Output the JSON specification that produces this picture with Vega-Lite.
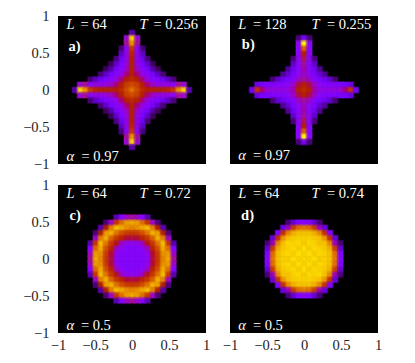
{"$schema":"https://vega.github.io/schema/vega-lite/v6.json","background":"white","padding":{"left":22,"top":8,"right":0,"bottom":0},"config":{"view":{"fill":"black","stroke":null},"axis":{"grid":false,"domain":false,"ticks":false,"labelFont":"Liberation Serif","labelFontSize":14.5,"labelColor":"#222","labelOverlap":false,"labelBound":false,"labelFlush":false,"format":"~g","values":[-1,-0.5,0,0.5,1],"title":null},"axisY":{"labelPadding":9},"axisX":{"labelPadding":5},"text":{"font":"Liberation Serif","fontSize":14.5,"color":"white","align":"left","baseline":"middle"}},
"datasets":{
"a":[
{"x":0,"y":0.77,"v":12},
{"x":-0.07,"y":0.7,"v":35},{"x":0,"y":0.7,"v":90},{"x":0.07,"y":0.7,"v":35},
{"x":-0.07,"y":0.63,"v":40},{"x":0,"y":0.63,"v":80},{"x":0.07,"y":0.63,"v":40},
{"x":-0.14,"y":0.56,"v":8},{"x":-0.07,"y":0.56,"v":30},{"x":0,"y":0.56,"v":60},{"x":0.07,"y":0.56,"v":30},{"x":0.14,"y":0.56,"v":8},
{"x":-0.14,"y":0.49,"v":14},{"x":-0.07,"y":0.49,"v":32},{"x":0,"y":0.49,"v":52},{"x":0.07,"y":0.49,"v":32},{"x":0.14,"y":0.49,"v":14},
{"x":-0.21,"y":0.42,"v":8},{"x":-0.14,"y":0.42,"v":20},{"x":-0.07,"y":0.42,"v":32},{"x":0,"y":0.42,"v":50},{"x":0.07,"y":0.42,"v":32},{"x":0.14,"y":0.42,"v":20},{"x":0.21,"y":0.42,"v":8},
{"x":-0.28,"y":0.35,"v":6},{"x":-0.21,"y":0.35,"v":15},{"x":-0.14,"y":0.35,"v":25},{"x":-0.07,"y":0.35,"v":33},{"x":0,"y":0.35,"v":50},{"x":0.07,"y":0.35,"v":33},{"x":0.14,"y":0.35,"v":25},{"x":0.21,"y":0.35,"v":15},{"x":0.28,"y":0.35,"v":6},
{"x":-0.35,"y":0.28,"v":6},{"x":-0.28,"y":0.28,"v":12},{"x":-0.21,"y":0.28,"v":23},{"x":-0.14,"y":0.28,"v":28},{"x":-0.07,"y":0.28,"v":36},{"x":0,"y":0.28,"v":50},{"x":0.07,"y":0.28,"v":36},{"x":0.14,"y":0.28,"v":28},{"x":0.21,"y":0.28,"v":23},{"x":0.28,"y":0.28,"v":12},{"x":0.35,"y":0.28,"v":6},
{"x":-0.42,"y":0.21,"v":8},{"x":-0.35,"y":0.21,"v":15},{"x":-0.28,"y":0.21,"v":23},{"x":-0.21,"y":0.21,"v":28},{"x":-0.14,"y":0.21,"v":32},{"x":-0.07,"y":0.21,"v":42},{"x":0,"y":0.21,"v":50},{"x":0.07,"y":0.21,"v":42},{"x":0.14,"y":0.21,"v":32},{"x":0.21,"y":0.21,"v":28},{"x":0.28,"y":0.21,"v":23},{"x":0.35,"y":0.21,"v":15},{"x":0.42,"y":0.21,"v":8},
{"x":-0.56,"y":0.14,"v":8},{"x":-0.49,"y":0.14,"v":14},{"x":-0.42,"y":0.14,"v":20},{"x":-0.35,"y":0.14,"v":25},{"x":-0.28,"y":0.14,"v":28},{"x":-0.21,"y":0.14,"v":32},{"x":-0.14,"y":0.14,"v":42},{"x":-0.07,"y":0.14,"v":50},{"x":0,"y":0.14,"v":55},{"x":0.07,"y":0.14,"v":50},{"x":0.14,"y":0.14,"v":42},{"x":0.21,"y":0.14,"v":32},{"x":0.28,"y":0.14,"v":28},{"x":0.35,"y":0.14,"v":25},{"x":0.42,"y":0.14,"v":20},{"x":0.49,"y":0.14,"v":14},{"x":0.56,"y":0.14,"v":8},
{"x":-0.7,"y":0.07,"v":35},{"x":-0.63,"y":0.07,"v":40},{"x":-0.56,"y":0.07,"v":30},{"x":-0.49,"y":0.07,"v":32},{"x":-0.42,"y":0.07,"v":32},{"x":-0.35,"y":0.07,"v":33},{"x":-0.28,"y":0.07,"v":36},{"x":-0.21,"y":0.07,"v":42},{"x":-0.14,"y":0.07,"v":50},{"x":-0.07,"y":0.07,"v":62},{"x":0,"y":0.07,"v":66},{"x":0.07,"y":0.07,"v":62},{"x":0.14,"y":0.07,"v":50},{"x":0.21,"y":0.07,"v":42},{"x":0.28,"y":0.07,"v":36},{"x":0.35,"y":0.07,"v":33},{"x":0.42,"y":0.07,"v":32},{"x":0.49,"y":0.07,"v":32},{"x":0.56,"y":0.07,"v":30},{"x":0.63,"y":0.07,"v":40},{"x":0.7,"y":0.07,"v":35},
{"x":-0.77,"y":0,"v":12},{"x":-0.7,"y":0,"v":90},{"x":-0.63,"y":0,"v":80},{"x":-0.56,"y":0,"v":60},{"x":-0.49,"y":0,"v":52},{"x":-0.42,"y":0,"v":50},{"x":-0.35,"y":0,"v":50},{"x":-0.28,"y":0,"v":50},{"x":-0.21,"y":0,"v":50},{"x":-0.14,"y":0,"v":55},{"x":-0.07,"y":0,"v":66},{"x":0,"y":0,"v":75},{"x":0.07,"y":0,"v":66},{"x":0.14,"y":0,"v":55},{"x":0.21,"y":0,"v":50},{"x":0.28,"y":0,"v":50},{"x":0.35,"y":0,"v":50},{"x":0.42,"y":0,"v":50},{"x":0.49,"y":0,"v":52},{"x":0.56,"y":0,"v":60},{"x":0.63,"y":0,"v":80},{"x":0.7,"y":0,"v":90},{"x":0.77,"y":0,"v":12},
{"x":-0.7,"y":-0.07,"v":35},{"x":-0.63,"y":-0.07,"v":40},{"x":-0.56,"y":-0.07,"v":30},{"x":-0.49,"y":-0.07,"v":32},{"x":-0.42,"y":-0.07,"v":32},{"x":-0.35,"y":-0.07,"v":33},{"x":-0.28,"y":-0.07,"v":36},{"x":-0.21,"y":-0.07,"v":42},{"x":-0.14,"y":-0.07,"v":50},{"x":-0.07,"y":-0.07,"v":62},{"x":0,"y":-0.07,"v":66},{"x":0.07,"y":-0.07,"v":62},{"x":0.14,"y":-0.07,"v":50},{"x":0.21,"y":-0.07,"v":42},{"x":0.28,"y":-0.07,"v":36},{"x":0.35,"y":-0.07,"v":33},{"x":0.42,"y":-0.07,"v":32},{"x":0.49,"y":-0.07,"v":32},{"x":0.56,"y":-0.07,"v":30},{"x":0.63,"y":-0.07,"v":40},{"x":0.7,"y":-0.07,"v":35},
{"x":-0.56,"y":-0.14,"v":8},{"x":-0.49,"y":-0.14,"v":14},{"x":-0.42,"y":-0.14,"v":20},{"x":-0.35,"y":-0.14,"v":25},{"x":-0.28,"y":-0.14,"v":28},{"x":-0.21,"y":-0.14,"v":32},{"x":-0.14,"y":-0.14,"v":42},{"x":-0.07,"y":-0.14,"v":50},{"x":0,"y":-0.14,"v":55},{"x":0.07,"y":-0.14,"v":50},{"x":0.14,"y":-0.14,"v":42},{"x":0.21,"y":-0.14,"v":32},{"x":0.28,"y":-0.14,"v":28},{"x":0.35,"y":-0.14,"v":25},{"x":0.42,"y":-0.14,"v":20},{"x":0.49,"y":-0.14,"v":14},{"x":0.56,"y":-0.14,"v":8},
{"x":-0.42,"y":-0.21,"v":8},{"x":-0.35,"y":-0.21,"v":15},{"x":-0.28,"y":-0.21,"v":23},{"x":-0.21,"y":-0.21,"v":28},{"x":-0.14,"y":-0.21,"v":32},{"x":-0.07,"y":-0.21,"v":42},{"x":0,"y":-0.21,"v":50},{"x":0.07,"y":-0.21,"v":42},{"x":0.14,"y":-0.21,"v":32},{"x":0.21,"y":-0.21,"v":28},{"x":0.28,"y":-0.21,"v":23},{"x":0.35,"y":-0.21,"v":15},{"x":0.42,"y":-0.21,"v":8},
{"x":-0.35,"y":-0.28,"v":6},{"x":-0.28,"y":-0.28,"v":12},{"x":-0.21,"y":-0.28,"v":23},{"x":-0.14,"y":-0.28,"v":28},{"x":-0.07,"y":-0.28,"v":36},{"x":0,"y":-0.28,"v":50},{"x":0.07,"y":-0.28,"v":36},{"x":0.14,"y":-0.28,"v":28},{"x":0.21,"y":-0.28,"v":23},{"x":0.28,"y":-0.28,"v":12},{"x":0.35,"y":-0.28,"v":6},
{"x":-0.28,"y":-0.35,"v":6},{"x":-0.21,"y":-0.35,"v":15},{"x":-0.14,"y":-0.35,"v":25},{"x":-0.07,"y":-0.35,"v":33},{"x":0,"y":-0.35,"v":50},{"x":0.07,"y":-0.35,"v":33},{"x":0.14,"y":-0.35,"v":25},{"x":0.21,"y":-0.35,"v":15},{"x":0.28,"y":-0.35,"v":6},
{"x":-0.21,"y":-0.42,"v":8},{"x":-0.14,"y":-0.42,"v":20},{"x":-0.07,"y":-0.42,"v":32},{"x":0,"y":-0.42,"v":50},{"x":0.07,"y":-0.42,"v":32},{"x":0.14,"y":-0.42,"v":20},{"x":0.21,"y":-0.42,"v":8},
{"x":-0.14,"y":-0.49,"v":14},{"x":-0.07,"y":-0.49,"v":32},{"x":0,"y":-0.49,"v":52},{"x":0.07,"y":-0.49,"v":32},{"x":0.14,"y":-0.49,"v":14},
{"x":-0.14,"y":-0.56,"v":8},{"x":-0.07,"y":-0.56,"v":30},{"x":0,"y":-0.56,"v":60},{"x":0.07,"y":-0.56,"v":30},{"x":0.14,"y":-0.56,"v":8},
{"x":-0.07,"y":-0.63,"v":40},{"x":0,"y":-0.63,"v":80},{"x":0.07,"y":-0.63,"v":40},
{"x":-0.07,"y":-0.7,"v":35},{"x":0,"y":-0.7,"v":90},{"x":0.07,"y":-0.7,"v":35},
{"x":0,"y":-0.77,"v":12}
],
"b":[
{"x":-0.07,"y":0.7,"v":8},{"x":0,"y":0.7,"v":22},{"x":0.07,"y":0.7,"v":8},
{"x":-0.07,"y":0.63,"v":30},{"x":0,"y":0.63,"v":95},{"x":0.07,"y":0.63,"v":30},
{"x":-0.07,"y":0.56,"v":28},{"x":0,"y":0.56,"v":72},{"x":0.07,"y":0.56,"v":28},
{"x":-0.07,"y":0.49,"v":28},{"x":0,"y":0.49,"v":50},{"x":0.07,"y":0.49,"v":28},
{"x":-0.14,"y":0.42,"v":8},{"x":-0.07,"y":0.42,"v":29},{"x":0,"y":0.42,"v":45},{"x":0.07,"y":0.42,"v":29},{"x":0.14,"y":0.42,"v":8},
{"x":-0.14,"y":0.35,"v":15},{"x":-0.07,"y":0.35,"v":29},{"x":0,"y":0.35,"v":40},{"x":0.07,"y":0.35,"v":29},{"x":0.14,"y":0.35,"v":15},
{"x":-0.21,"y":0.28,"v":10},{"x":-0.14,"y":0.28,"v":20},{"x":-0.07,"y":0.28,"v":29},{"x":0,"y":0.28,"v":38},{"x":0.07,"y":0.28,"v":29},{"x":0.14,"y":0.28,"v":20},{"x":0.21,"y":0.28,"v":10},
{"x":-0.28,"y":0.21,"v":10},{"x":-0.21,"y":0.21,"v":16},{"x":-0.14,"y":0.21,"v":24},{"x":-0.07,"y":0.21,"v":31},{"x":0,"y":0.21,"v":36},{"x":0.07,"y":0.21,"v":31},{"x":0.14,"y":0.21,"v":24},{"x":0.21,"y":0.21,"v":16},{"x":0.28,"y":0.21,"v":10},
{"x":-0.42,"y":0.14,"v":8},{"x":-0.35,"y":0.14,"v":15},{"x":-0.28,"y":0.14,"v":20},{"x":-0.21,"y":0.14,"v":24},{"x":-0.14,"y":0.14,"v":27},{"x":-0.07,"y":0.14,"v":36},{"x":0,"y":0.14,"v":40},{"x":0.07,"y":0.14,"v":36},{"x":0.14,"y":0.14,"v":27},{"x":0.21,"y":0.14,"v":24},{"x":0.28,"y":0.14,"v":20},{"x":0.35,"y":0.14,"v":15},{"x":0.42,"y":0.14,"v":8},
{"x":-0.63,"y":0.07,"v":18},{"x":-0.56,"y":0.07,"v":22},{"x":-0.49,"y":0.07,"v":24},{"x":-0.42,"y":0.07,"v":26},{"x":-0.35,"y":0.07,"v":27},{"x":-0.28,"y":0.07,"v":27},{"x":-0.21,"y":0.07,"v":30},{"x":-0.14,"y":0.07,"v":36},{"x":-0.07,"y":0.07,"v":46},{"x":0,"y":0.07,"v":50},{"x":0.07,"y":0.07,"v":46},{"x":0.14,"y":0.07,"v":36},{"x":0.21,"y":0.07,"v":30},{"x":0.28,"y":0.07,"v":27},{"x":0.35,"y":0.07,"v":27},{"x":0.42,"y":0.07,"v":26},{"x":0.49,"y":0.07,"v":24},{"x":0.56,"y":0.07,"v":22},{"x":0.63,"y":0.07,"v":18},
{"x":-0.7,"y":0,"v":20},{"x":-0.63,"y":0,"v":58},{"x":-0.56,"y":0,"v":42},{"x":-0.49,"y":0,"v":34},{"x":-0.42,"y":0,"v":33},{"x":-0.35,"y":0,"v":32},{"x":-0.28,"y":0,"v":32},{"x":-0.21,"y":0,"v":33},{"x":-0.14,"y":0,"v":38},{"x":-0.07,"y":0,"v":50},{"x":0,"y":0,"v":55},{"x":0.07,"y":0,"v":50},{"x":0.14,"y":0,"v":38},{"x":0.21,"y":0,"v":33},{"x":0.28,"y":0,"v":32},{"x":0.35,"y":0,"v":32},{"x":0.42,"y":0,"v":33},{"x":0.49,"y":0,"v":34},{"x":0.56,"y":0,"v":42},{"x":0.63,"y":0,"v":58},{"x":0.7,"y":0,"v":20},
{"x":-0.63,"y":-0.07,"v":18},{"x":-0.56,"y":-0.07,"v":22},{"x":-0.49,"y":-0.07,"v":24},{"x":-0.42,"y":-0.07,"v":26},{"x":-0.35,"y":-0.07,"v":27},{"x":-0.28,"y":-0.07,"v":27},{"x":-0.21,"y":-0.07,"v":30},{"x":-0.14,"y":-0.07,"v":36},{"x":-0.07,"y":-0.07,"v":46},{"x":0,"y":-0.07,"v":50},{"x":0.07,"y":-0.07,"v":46},{"x":0.14,"y":-0.07,"v":36},{"x":0.21,"y":-0.07,"v":30},{"x":0.28,"y":-0.07,"v":27},{"x":0.35,"y":-0.07,"v":27},{"x":0.42,"y":-0.07,"v":26},{"x":0.49,"y":-0.07,"v":24},{"x":0.56,"y":-0.07,"v":22},{"x":0.63,"y":-0.07,"v":18},
{"x":-0.42,"y":-0.14,"v":8},{"x":-0.35,"y":-0.14,"v":15},{"x":-0.28,"y":-0.14,"v":20},{"x":-0.21,"y":-0.14,"v":24},{"x":-0.14,"y":-0.14,"v":27},{"x":-0.07,"y":-0.14,"v":36},{"x":0,"y":-0.14,"v":40},{"x":0.07,"y":-0.14,"v":36},{"x":0.14,"y":-0.14,"v":27},{"x":0.21,"y":-0.14,"v":24},{"x":0.28,"y":-0.14,"v":20},{"x":0.35,"y":-0.14,"v":15},{"x":0.42,"y":-0.14,"v":8},
{"x":-0.28,"y":-0.21,"v":10},{"x":-0.21,"y":-0.21,"v":16},{"x":-0.14,"y":-0.21,"v":24},{"x":-0.07,"y":-0.21,"v":31},{"x":0,"y":-0.21,"v":36},{"x":0.07,"y":-0.21,"v":31},{"x":0.14,"y":-0.21,"v":24},{"x":0.21,"y":-0.21,"v":16},{"x":0.28,"y":-0.21,"v":10},
{"x":-0.21,"y":-0.28,"v":10},{"x":-0.14,"y":-0.28,"v":20},{"x":-0.07,"y":-0.28,"v":29},{"x":0,"y":-0.28,"v":38},{"x":0.07,"y":-0.28,"v":29},{"x":0.14,"y":-0.28,"v":20},{"x":0.21,"y":-0.28,"v":10},
{"x":-0.14,"y":-0.35,"v":15},{"x":-0.07,"y":-0.35,"v":29},{"x":0,"y":-0.35,"v":40},{"x":0.07,"y":-0.35,"v":29},{"x":0.14,"y":-0.35,"v":15},
{"x":-0.14,"y":-0.42,"v":8},{"x":-0.07,"y":-0.42,"v":29},{"x":0,"y":-0.42,"v":45},{"x":0.07,"y":-0.42,"v":29},{"x":0.14,"y":-0.42,"v":8},
{"x":-0.07,"y":-0.49,"v":28},{"x":0,"y":-0.49,"v":50},{"x":0.07,"y":-0.49,"v":28},
{"x":-0.07,"y":-0.56,"v":28},{"x":0,"y":-0.56,"v":72},{"x":0.07,"y":-0.56,"v":28},
{"x":-0.07,"y":-0.63,"v":30},{"x":0,"y":-0.63,"v":95},{"x":0.07,"y":-0.63,"v":30},
{"x":-0.07,"y":-0.7,"v":8},{"x":0,"y":-0.7,"v":22},{"x":0.07,"y":-0.7,"v":8}
],
"c":[
{"x":-0.21,"y":0.56,"v":12},{"x":-0.14,"y":0.56,"v":26},{"x":-0.07,"y":0.56,"v":36},{"x":0,"y":0.56,"v":40},{"x":0.07,"y":0.56,"v":36},{"x":0.14,"y":0.56,"v":26},{"x":0.21,"y":0.56,"v":12},
{"x":-0.35,"y":0.49,"v":8},{"x":-0.28,"y":0.49,"v":36},{"x":-0.21,"y":0.49,"v":60},{"x":-0.14,"y":0.49,"v":74},{"x":-0.07,"y":0.49,"v":82},{"x":0,"y":0.49,"v":84},{"x":0.07,"y":0.49,"v":82},{"x":0.14,"y":0.49,"v":74},{"x":0.21,"y":0.49,"v":60},{"x":0.28,"y":0.49,"v":36},{"x":0.35,"y":0.49,"v":8},
{"x":-0.42,"y":0.42,"v":12},{"x":-0.35,"y":0.42,"v":50},{"x":-0.28,"y":0.42,"v":77},{"x":-0.21,"y":0.42,"v":87},{"x":-0.14,"y":0.42,"v":84},{"x":-0.07,"y":0.42,"v":80},{"x":0,"y":0.42,"v":78},{"x":0.07,"y":0.42,"v":80},{"x":0.14,"y":0.42,"v":84},{"x":0.21,"y":0.42,"v":87},{"x":0.28,"y":0.42,"v":77},{"x":0.35,"y":0.42,"v":50},{"x":0.42,"y":0.42,"v":12},
{"x":-0.49,"y":0.35,"v":8},{"x":-0.42,"y":0.35,"v":50},{"x":-0.35,"y":0.35,"v":82},{"x":-0.28,"y":0.35,"v":85},{"x":-0.21,"y":0.35,"v":75},{"x":-0.14,"y":0.35,"v":67},{"x":-0.07,"y":0.35,"v":61},{"x":0,"y":0.35,"v":60},{"x":0.07,"y":0.35,"v":61},{"x":0.14,"y":0.35,"v":67},{"x":0.21,"y":0.35,"v":75},{"x":0.28,"y":0.35,"v":85},{"x":0.35,"y":0.35,"v":82},{"x":0.42,"y":0.35,"v":50},{"x":0.49,"y":0.35,"v":8},
{"x":-0.49,"y":0.28,"v":36},{"x":-0.42,"y":0.28,"v":77},{"x":-0.35,"y":0.28,"v":85},{"x":-0.28,"y":0.28,"v":72},{"x":-0.21,"y":0.28,"v":60},{"x":-0.14,"y":0.28,"v":52},{"x":-0.07,"y":0.28,"v":47},{"x":0,"y":0.28,"v":46},{"x":0.07,"y":0.28,"v":47},{"x":0.14,"y":0.28,"v":52},{"x":0.21,"y":0.28,"v":60},{"x":0.28,"y":0.28,"v":72},{"x":0.35,"y":0.28,"v":85},{"x":0.42,"y":0.28,"v":77},{"x":0.49,"y":0.28,"v":36},
{"x":-0.56,"y":0.21,"v":12},{"x":-0.49,"y":0.21,"v":60},{"x":-0.42,"y":0.21,"v":87},{"x":-0.35,"y":0.21,"v":75},{"x":-0.28,"y":0.21,"v":60},{"x":-0.21,"y":0.21,"v":49},{"x":-0.14,"y":0.21,"v":36},{"x":-0.07,"y":0.21,"v":31},{"x":0,"y":0.21,"v":30},{"x":0.07,"y":0.21,"v":31},{"x":0.14,"y":0.21,"v":36},{"x":0.21,"y":0.21,"v":49},{"x":0.28,"y":0.21,"v":60},{"x":0.35,"y":0.21,"v":75},{"x":0.42,"y":0.21,"v":87},{"x":0.49,"y":0.21,"v":60},{"x":0.56,"y":0.21,"v":12},
{"x":-0.56,"y":0.14,"v":26},{"x":-0.49,"y":0.14,"v":74},{"x":-0.42,"y":0.14,"v":84},{"x":-0.35,"y":0.14,"v":67},{"x":-0.28,"y":0.14,"v":52},{"x":-0.21,"y":0.14,"v":36},{"x":-0.14,"y":0.14,"v":29},{"x":-0.07,"y":0.14,"v":27},{"x":0,"y":0.14,"v":27},{"x":0.07,"y":0.14,"v":27},{"x":0.14,"y":0.14,"v":29},{"x":0.21,"y":0.14,"v":36},{"x":0.28,"y":0.14,"v":52},{"x":0.35,"y":0.14,"v":67},{"x":0.42,"y":0.14,"v":84},{"x":0.49,"y":0.14,"v":74},{"x":0.56,"y":0.14,"v":26},
{"x":-0.56,"y":0.07,"v":36},{"x":-0.49,"y":0.07,"v":82},{"x":-0.42,"y":0.07,"v":80},{"x":-0.35,"y":0.07,"v":61},{"x":-0.28,"y":0.07,"v":47},{"x":-0.21,"y":0.07,"v":31},{"x":-0.14,"y":0.07,"v":27},{"x":-0.07,"y":0.07,"v":27},{"x":0,"y":0.07,"v":27},{"x":0.07,"y":0.07,"v":27},{"x":0.14,"y":0.07,"v":27},{"x":0.21,"y":0.07,"v":31},{"x":0.28,"y":0.07,"v":47},{"x":0.35,"y":0.07,"v":61},{"x":0.42,"y":0.07,"v":80},{"x":0.49,"y":0.07,"v":82},{"x":0.56,"y":0.07,"v":36},
{"x":-0.56,"y":0,"v":40},{"x":-0.49,"y":0,"v":84},{"x":-0.42,"y":0,"v":78},{"x":-0.35,"y":0,"v":60},{"x":-0.28,"y":0,"v":46},{"x":-0.21,"y":0,"v":30},{"x":-0.14,"y":0,"v":27},{"x":-0.07,"y":0,"v":27},{"x":0,"y":0,"v":27},{"x":0.07,"y":0,"v":27},{"x":0.14,"y":0,"v":27},{"x":0.21,"y":0,"v":30},{"x":0.28,"y":0,"v":46},{"x":0.35,"y":0,"v":60},{"x":0.42,"y":0,"v":78},{"x":0.49,"y":0,"v":84},{"x":0.56,"y":0,"v":40},
{"x":-0.56,"y":-0.07,"v":36},{"x":-0.49,"y":-0.07,"v":82},{"x":-0.42,"y":-0.07,"v":80},{"x":-0.35,"y":-0.07,"v":61},{"x":-0.28,"y":-0.07,"v":47},{"x":-0.21,"y":-0.07,"v":31},{"x":-0.14,"y":-0.07,"v":27},{"x":-0.07,"y":-0.07,"v":27},{"x":0,"y":-0.07,"v":27},{"x":0.07,"y":-0.07,"v":27},{"x":0.14,"y":-0.07,"v":27},{"x":0.21,"y":-0.07,"v":31},{"x":0.28,"y":-0.07,"v":47},{"x":0.35,"y":-0.07,"v":61},{"x":0.42,"y":-0.07,"v":80},{"x":0.49,"y":-0.07,"v":82},{"x":0.56,"y":-0.07,"v":36},
{"x":-0.56,"y":-0.14,"v":26},{"x":-0.49,"y":-0.14,"v":74},{"x":-0.42,"y":-0.14,"v":84},{"x":-0.35,"y":-0.14,"v":67},{"x":-0.28,"y":-0.14,"v":52},{"x":-0.21,"y":-0.14,"v":36},{"x":-0.14,"y":-0.14,"v":29},{"x":-0.07,"y":-0.14,"v":27},{"x":0,"y":-0.14,"v":27},{"x":0.07,"y":-0.14,"v":27},{"x":0.14,"y":-0.14,"v":29},{"x":0.21,"y":-0.14,"v":36},{"x":0.28,"y":-0.14,"v":52},{"x":0.35,"y":-0.14,"v":67},{"x":0.42,"y":-0.14,"v":84},{"x":0.49,"y":-0.14,"v":74},{"x":0.56,"y":-0.14,"v":26},
{"x":-0.56,"y":-0.21,"v":12},{"x":-0.49,"y":-0.21,"v":60},{"x":-0.42,"y":-0.21,"v":87},{"x":-0.35,"y":-0.21,"v":75},{"x":-0.28,"y":-0.21,"v":60},{"x":-0.21,"y":-0.21,"v":49},{"x":-0.14,"y":-0.21,"v":36},{"x":-0.07,"y":-0.21,"v":31},{"x":0,"y":-0.21,"v":30},{"x":0.07,"y":-0.21,"v":31},{"x":0.14,"y":-0.21,"v":36},{"x":0.21,"y":-0.21,"v":49},{"x":0.28,"y":-0.21,"v":60},{"x":0.35,"y":-0.21,"v":75},{"x":0.42,"y":-0.21,"v":87},{"x":0.49,"y":-0.21,"v":60},{"x":0.56,"y":-0.21,"v":12},
{"x":-0.49,"y":-0.28,"v":36},{"x":-0.42,"y":-0.28,"v":77},{"x":-0.35,"y":-0.28,"v":85},{"x":-0.28,"y":-0.28,"v":72},{"x":-0.21,"y":-0.28,"v":60},{"x":-0.14,"y":-0.28,"v":52},{"x":-0.07,"y":-0.28,"v":47},{"x":0,"y":-0.28,"v":46},{"x":0.07,"y":-0.28,"v":47},{"x":0.14,"y":-0.28,"v":52},{"x":0.21,"y":-0.28,"v":60},{"x":0.28,"y":-0.28,"v":72},{"x":0.35,"y":-0.28,"v":85},{"x":0.42,"y":-0.28,"v":77},{"x":0.49,"y":-0.28,"v":36},
{"x":-0.49,"y":-0.35,"v":8},{"x":-0.42,"y":-0.35,"v":50},{"x":-0.35,"y":-0.35,"v":82},{"x":-0.28,"y":-0.35,"v":85},{"x":-0.21,"y":-0.35,"v":75},{"x":-0.14,"y":-0.35,"v":67},{"x":-0.07,"y":-0.35,"v":61},{"x":0,"y":-0.35,"v":60},{"x":0.07,"y":-0.35,"v":61},{"x":0.14,"y":-0.35,"v":67},{"x":0.21,"y":-0.35,"v":75},{"x":0.28,"y":-0.35,"v":85},{"x":0.35,"y":-0.35,"v":82},{"x":0.42,"y":-0.35,"v":50},{"x":0.49,"y":-0.35,"v":8},
{"x":-0.42,"y":-0.42,"v":12},{"x":-0.35,"y":-0.42,"v":50},{"x":-0.28,"y":-0.42,"v":77},{"x":-0.21,"y":-0.42,"v":87},{"x":-0.14,"y":-0.42,"v":84},{"x":-0.07,"y":-0.42,"v":80},{"x":0,"y":-0.42,"v":78},{"x":0.07,"y":-0.42,"v":80},{"x":0.14,"y":-0.42,"v":84},{"x":0.21,"y":-0.42,"v":87},{"x":0.28,"y":-0.42,"v":77},{"x":0.35,"y":-0.42,"v":50},{"x":0.42,"y":-0.42,"v":12},
{"x":-0.35,"y":-0.49,"v":8},{"x":-0.28,"y":-0.49,"v":36},{"x":-0.21,"y":-0.49,"v":60},{"x":-0.14,"y":-0.49,"v":74},{"x":-0.07,"y":-0.49,"v":82},{"x":0,"y":-0.49,"v":84},{"x":0.07,"y":-0.49,"v":82},{"x":0.14,"y":-0.49,"v":74},{"x":0.21,"y":-0.49,"v":60},{"x":0.28,"y":-0.49,"v":36},{"x":0.35,"y":-0.49,"v":8},
{"x":-0.21,"y":-0.56,"v":12},{"x":-0.14,"y":-0.56,"v":26},{"x":-0.07,"y":-0.56,"v":36},{"x":0,"y":-0.56,"v":40},{"x":0.07,"y":-0.56,"v":36},{"x":0.14,"y":-0.56,"v":26},{"x":0.21,"y":-0.56,"v":12}
],
"d":[
{"x":-0.21,"y":0.49,"v":8},{"x":-0.14,"y":0.49,"v":16},{"x":-0.07,"y":0.49,"v":25},{"x":0,"y":0.49,"v":27},{"x":0.07,"y":0.49,"v":25},{"x":0.14,"y":0.49,"v":16},{"x":0.21,"y":0.49,"v":8},
{"x":-0.28,"y":0.42,"v":17},{"x":-0.21,"y":0.42,"v":37},{"x":-0.14,"y":0.42,"v":62},{"x":-0.07,"y":0.42,"v":74},{"x":0,"y":0.42,"v":76},{"x":0.07,"y":0.42,"v":74},{"x":0.14,"y":0.42,"v":62},{"x":0.21,"y":0.42,"v":37},{"x":0.28,"y":0.42,"v":17},
{"x":-0.35,"y":0.35,"v":25},{"x":-0.28,"y":0.35,"v":58},{"x":-0.21,"y":0.35,"v":79},{"x":-0.14,"y":0.35,"v":85},{"x":-0.07,"y":0.35,"v":88},{"x":0,"y":0.35,"v":88},{"x":0.07,"y":0.35,"v":88},{"x":0.14,"y":0.35,"v":85},{"x":0.21,"y":0.35,"v":79},{"x":0.28,"y":0.35,"v":58},{"x":0.35,"y":0.35,"v":25},
{"x":-0.42,"y":0.28,"v":17},{"x":-0.35,"y":0.28,"v":58},{"x":-0.28,"y":0.28,"v":81},{"x":-0.21,"y":0.28,"v":88},{"x":-0.14,"y":0.28,"v":89},{"x":-0.07,"y":0.28,"v":90},{"x":0,"y":0.28,"v":90},{"x":0.07,"y":0.28,"v":90},{"x":0.14,"y":0.28,"v":89},{"x":0.21,"y":0.28,"v":88},{"x":0.28,"y":0.28,"v":81},{"x":0.35,"y":0.28,"v":58},{"x":0.42,"y":0.28,"v":17},
{"x":-0.49,"y":0.21,"v":8},{"x":-0.42,"y":0.21,"v":37},{"x":-0.35,"y":0.21,"v":79},{"x":-0.28,"y":0.21,"v":88},{"x":-0.21,"y":0.21,"v":91},{"x":-0.14,"y":0.21,"v":90},{"x":-0.07,"y":0.21,"v":91},{"x":0,"y":0.21,"v":89},{"x":0.07,"y":0.21,"v":91},{"x":0.14,"y":0.21,"v":90},{"x":0.21,"y":0.21,"v":88},{"x":0.28,"y":0.21,"v":88},{"x":0.35,"y":0.21,"v":79},{"x":0.42,"y":0.21,"v":37},{"x":0.49,"y":0.21,"v":8},
{"x":-0.49,"y":0.14,"v":16},{"x":-0.42,"y":0.14,"v":62},{"x":-0.35,"y":0.14,"v":85},{"x":-0.28,"y":0.14,"v":89},{"x":-0.21,"y":0.14,"v":90},{"x":-0.14,"y":0.14,"v":91},{"x":-0.07,"y":0.14,"v":89},{"x":0,"y":0.14,"v":92},{"x":0.07,"y":0.14,"v":89},{"x":0.14,"y":0.14,"v":91},{"x":0.21,"y":0.14,"v":90},{"x":0.28,"y":0.14,"v":89},{"x":0.35,"y":0.14,"v":85},{"x":0.42,"y":0.14,"v":62},{"x":0.49,"y":0.14,"v":16},
{"x":-0.49,"y":0.07,"v":25},{"x":-0.42,"y":0.07,"v":74},{"x":-0.35,"y":0.07,"v":88},{"x":-0.28,"y":0.07,"v":90},{"x":-0.21,"y":0.07,"v":91},{"x":-0.14,"y":0.07,"v":89},{"x":-0.07,"y":0.07,"v":92},{"x":0,"y":0.07,"v":90},{"x":0.07,"y":0.07,"v":92},{"x":0.14,"y":0.07,"v":89},{"x":0.21,"y":0.07,"v":91},{"x":0.28,"y":0.07,"v":90},{"x":0.35,"y":0.07,"v":88},{"x":0.42,"y":0.07,"v":74},{"x":0.49,"y":0.07,"v":25},
{"x":-0.49,"y":0,"v":27},{"x":-0.42,"y":0,"v":76},{"x":-0.35,"y":0,"v":88},{"x":-0.28,"y":0,"v":90},{"x":-0.21,"y":0,"v":89},{"x":-0.14,"y":0,"v":92},{"x":-0.07,"y":0,"v":90},{"x":0,"y":0,"v":91},{"x":0.07,"y":0,"v":90},{"x":0.14,"y":0,"v":92},{"x":0.21,"y":0,"v":89},{"x":0.28,"y":0,"v":90},{"x":0.35,"y":0,"v":88},{"x":0.42,"y":0,"v":76},{"x":0.49,"y":0,"v":27},
{"x":-0.49,"y":-0.07,"v":25},{"x":-0.42,"y":-0.07,"v":74},{"x":-0.35,"y":-0.07,"v":88},{"x":-0.28,"y":-0.07,"v":90},{"x":-0.21,"y":-0.07,"v":91},{"x":-0.14,"y":-0.07,"v":89},{"x":-0.07,"y":-0.07,"v":92},{"x":0,"y":-0.07,"v":90},{"x":0.07,"y":-0.07,"v":92},{"x":0.14,"y":-0.07,"v":89},{"x":0.21,"y":-0.07,"v":91},{"x":0.28,"y":-0.07,"v":90},{"x":0.35,"y":-0.07,"v":88},{"x":0.42,"y":-0.07,"v":74},{"x":0.49,"y":-0.07,"v":25},
{"x":-0.49,"y":-0.14,"v":16},{"x":-0.42,"y":-0.14,"v":62},{"x":-0.35,"y":-0.14,"v":85},{"x":-0.28,"y":-0.14,"v":89},{"x":-0.21,"y":-0.14,"v":90},{"x":-0.14,"y":-0.14,"v":91},{"x":-0.07,"y":-0.14,"v":89},{"x":0,"y":-0.14,"v":92},{"x":0.07,"y":-0.14,"v":89},{"x":0.14,"y":-0.14,"v":91},{"x":0.21,"y":-0.14,"v":90},{"x":0.28,"y":-0.14,"v":89},{"x":0.35,"y":-0.14,"v":85},{"x":0.42,"y":-0.14,"v":62},{"x":0.49,"y":-0.14,"v":16},
{"x":-0.49,"y":-0.21,"v":8},{"x":-0.42,"y":-0.21,"v":37},{"x":-0.35,"y":-0.21,"v":79},{"x":-0.28,"y":-0.21,"v":88},{"x":-0.21,"y":-0.21,"v":88},{"x":-0.14,"y":-0.21,"v":90},{"x":-0.07,"y":-0.21,"v":91},{"x":0,"y":-0.21,"v":89},{"x":0.07,"y":-0.21,"v":91},{"x":0.14,"y":-0.21,"v":90},{"x":0.21,"y":-0.21,"v":91},{"x":0.28,"y":-0.21,"v":88},{"x":0.35,"y":-0.21,"v":79},{"x":0.42,"y":-0.21,"v":37},{"x":0.49,"y":-0.21,"v":8},
{"x":-0.42,"y":-0.28,"v":17},{"x":-0.35,"y":-0.28,"v":58},{"x":-0.28,"y":-0.28,"v":81},{"x":-0.21,"y":-0.28,"v":88},{"x":-0.14,"y":-0.28,"v":89},{"x":-0.07,"y":-0.28,"v":90},{"x":0,"y":-0.28,"v":90},{"x":0.07,"y":-0.28,"v":90},{"x":0.14,"y":-0.28,"v":89},{"x":0.21,"y":-0.28,"v":88},{"x":0.28,"y":-0.28,"v":81},{"x":0.35,"y":-0.28,"v":58},{"x":0.42,"y":-0.28,"v":17},
{"x":-0.35,"y":-0.35,"v":25},{"x":-0.28,"y":-0.35,"v":58},{"x":-0.21,"y":-0.35,"v":79},{"x":-0.14,"y":-0.35,"v":85},{"x":-0.07,"y":-0.35,"v":88},{"x":0,"y":-0.35,"v":88},{"x":0.07,"y":-0.35,"v":88},{"x":0.14,"y":-0.35,"v":85},{"x":0.21,"y":-0.35,"v":79},{"x":0.28,"y":-0.35,"v":58},{"x":0.35,"y":-0.35,"v":25},
{"x":-0.28,"y":-0.42,"v":17},{"x":-0.21,"y":-0.42,"v":37},{"x":-0.14,"y":-0.42,"v":62},{"x":-0.07,"y":-0.42,"v":74},{"x":0,"y":-0.42,"v":76},{"x":0.07,"y":-0.42,"v":74},{"x":0.14,"y":-0.42,"v":62},{"x":0.21,"y":-0.42,"v":37},{"x":0.28,"y":-0.42,"v":17},
{"x":-0.21,"y":-0.49,"v":8},{"x":-0.14,"y":-0.49,"v":16},{"x":-0.07,"y":-0.49,"v":25},{"x":0,"y":-0.49,"v":27},{"x":0.07,"y":-0.49,"v":25},{"x":0.14,"y":-0.49,"v":16},{"x":0.21,"y":-0.49,"v":8}
]},
"bounds":"flush","columns":2,"spacing":{"row":21,"column":24},"concat":[
{"width":148,"height":148,"encoding":{"x":{"field":"x","type":"quantitative","scale":{"domain":[-1,1],"nice":false},"axis":null},"y":{"field":"y","type":"quantitative","scale":{"domain":[-1,1],"nice":false}}},"layer":[{"data":{"name":"a"},"mark":{"type":"rect","width":5.6,"height":5.6},"encoding":{"color":{"field":"v","type":"quantitative","legend":null,"scale":{"domain":[0,5,10,15,20,25,30,35,40,45,50,60,70,78,87,96],"range":["#000000","#39004f","#510096","#6301ce","#7202f2","#8004ff","#8c07f2","#970bce","#a11096","#ab174f","#b42000","#c63700","#d55700","#e48300","#f2ba00","#ffff00"]}}}},{"data":{"name":"a"},"mark":{"type":"rect","width":7.4,"height":7.4,"opacity":0.3},"encoding":{"color":{"field":"v","type":"quantitative","legend":null,"scale":{"domain":[0,5,10,15,20,25,30,35,40,45,50,60,70,78,87,96],"range":["#000000","#39004f","#510096","#6301ce","#7202f2","#8004ff","#8c07f2","#970bce","#a11096","#ab174f","#b42000","#c63700","#d55700","#e48300","#f2ba00","#ffff00"]}}}},{"data":{"values":[{"x":-0.885,"y":0.878,"t":"L"},{"x":0.1,"y":0.878,"t":"T"},{"x":-0.885,"y":-0.905,"t":"α"}]},"mark":{"type":"text","fontStyle":"italic"},"encoding":{"text":{"field":"t"}}},{"data":{"values":[{"x":-0.696,"y":0.878,"t":"= 64"},{"x":0.29,"y":0.878,"t":"= 0.256"},{"x":-0.683,"y":-0.905,"t":"= 0.97"}]},"mark":{"type":"text"},"encoding":{"text":{"field":"t"}}},{"data":{"values":[{"x":-0.858,"y":0.58,"t":"a)"}]},"mark":{"type":"text","fontWeight":"bold"},"encoding":{"text":{"field":"t"}}}]},
{"width":148,"height":148,"encoding":{"x":{"field":"x","type":"quantitative","scale":{"domain":[-1,1],"nice":false},"axis":null},"y":{"field":"y","type":"quantitative","scale":{"domain":[-1,1],"nice":false},"axis":null}},"layer":[{"data":{"name":"b"},"mark":{"type":"rect","width":5.6,"height":5.6},"encoding":{"color":{"field":"v","type":"quantitative","legend":null,"scale":{"domain":[0,5,10,15,20,25,30,35,40,45,50,60,70,78,87,96],"range":["#000000","#39004f","#510096","#6301ce","#7202f2","#8004ff","#8c07f2","#970bce","#a11096","#ab174f","#b42000","#c63700","#d55700","#e48300","#f2ba00","#ffff00"]}}}},{"data":{"name":"b"},"mark":{"type":"rect","width":7.4,"height":7.4,"opacity":0.3},"encoding":{"color":{"field":"v","type":"quantitative","legend":null,"scale":{"domain":[0,5,10,15,20,25,30,35,40,45,50,60,70,78,87,96],"range":["#000000","#39004f","#510096","#6301ce","#7202f2","#8004ff","#8c07f2","#970bce","#a11096","#ab174f","#b42000","#c63700","#d55700","#e48300","#f2ba00","#ffff00"]}}}},{"data":{"values":[{"x":-0.89,"y":0.878,"t":"L"},{"x":0.1,"y":0.878,"t":"T"},{"x":-0.89,"y":-0.89,"t":"α"}]},"mark":{"type":"text","fontStyle":"italic"},"encoding":{"text":{"field":"t"}}},{"data":{"values":[{"x":-0.69,"y":0.878,"t":"= 128"},{"x":0.31,"y":0.878,"t":"= 0.255"},{"x":-0.69,"y":-0.89,"t":"= 0.97"}]},"mark":{"type":"text"},"encoding":{"text":{"field":"t"}}},{"data":{"values":[{"x":-0.84,"y":0.61,"t":"b)"}]},"mark":{"type":"text","fontWeight":"bold"},"encoding":{"text":{"field":"t"}}}]},
{"width":148,"height":148,"encoding":{"x":{"field":"x","type":"quantitative","scale":{"domain":[-1,1],"nice":false}},"y":{"field":"y","type":"quantitative","scale":{"domain":[-1,1],"nice":false}}},"layer":[{"data":{"name":"c"},"mark":{"type":"rect","width":5.6,"height":5.6},"encoding":{"color":{"field":"v","type":"quantitative","legend":null,"scale":{"domain":[0,5,10,15,20,25,30,35,40,45,50,60,70,78,87,96],"range":["#000000","#39004f","#510096","#6301ce","#7202f2","#8004ff","#8c07f2","#970bce","#a11096","#ab174f","#b42000","#c63700","#d55700","#e48300","#f2ba00","#ffff00"]}}}},{"data":{"name":"c"},"mark":{"type":"rect","width":7.4,"height":7.4,"opacity":0.3},"encoding":{"color":{"field":"v","type":"quantitative","legend":null,"scale":{"domain":[0,5,10,15,20,25,30,35,40,45,50,60,70,78,87,96],"range":["#000000","#39004f","#510096","#6301ce","#7202f2","#8004ff","#8c07f2","#970bce","#a11096","#ab174f","#b42000","#c63700","#d55700","#e48300","#f2ba00","#ffff00"]}}}},{"data":{"values":[{"x":-0.885,"y":0.878,"t":"L"},{"x":0.1,"y":0.878,"t":"T"},{"x":-0.885,"y":-0.9,"t":"α"}]},"mark":{"type":"text","fontStyle":"italic"},"encoding":{"text":{"field":"t"}}},{"data":{"values":[{"x":-0.696,"y":0.878,"t":"= 64"},{"x":0.29,"y":0.878,"t":"= 0.72"},{"x":-0.69,"y":-0.9,"t":"= 0.5"}]},"mark":{"type":"text"},"encoding":{"text":{"field":"t"}}},{"data":{"values":[{"x":-0.845,"y":0.585,"t":"c)"}]},"mark":{"type":"text","fontWeight":"bold"},"encoding":{"text":{"field":"t"}}}]},
{"width":148,"height":148,"encoding":{"x":{"field":"x","type":"quantitative","scale":{"domain":[-1,1],"nice":false}},"y":{"field":"y","type":"quantitative","scale":{"domain":[-1,1],"nice":false},"axis":null}},"layer":[{"data":{"name":"d"},"mark":{"type":"rect","width":5.6,"height":5.6},"encoding":{"color":{"field":"v","type":"quantitative","legend":null,"scale":{"domain":[0,5,10,15,20,25,30,35,40,45,50,60,70,78,87,96],"range":["#000000","#39004f","#510096","#6301ce","#7202f2","#8004ff","#8c07f2","#970bce","#a11096","#ab174f","#b42000","#c63700","#d55700","#e48300","#f2ba00","#ffff00"]}}}},{"data":{"name":"d"},"mark":{"type":"rect","width":7.4,"height":7.4,"opacity":0.3},"encoding":{"color":{"field":"v","type":"quantitative","legend":null,"scale":{"domain":[0,5,10,15,20,25,30,35,40,45,50,60,70,78,87,96],"range":["#000000","#39004f","#510096","#6301ce","#7202f2","#8004ff","#8c07f2","#970bce","#a11096","#ab174f","#b42000","#c63700","#d55700","#e48300","#f2ba00","#ffff00"]}}}},{"data":{"values":[{"x":-0.89,"y":0.878,"t":"L"},{"x":0.1,"y":0.878,"t":"T"},{"x":-0.89,"y":-0.9,"t":"α"}]},"mark":{"type":"text","fontStyle":"italic"},"encoding":{"text":{"field":"t"}}},{"data":{"values":[{"x":-0.69,"y":0.878,"t":"= 64"},{"x":0.31,"y":0.878,"t":"= 0.74"},{"x":-0.69,"y":-0.9,"t":"= 0.5"}]},"mark":{"type":"text"},"encoding":{"text":{"field":"t"}}},{"data":{"values":[{"x":-0.85,"y":0.585,"t":"d)"}]},"mark":{"type":"text","fontWeight":"bold"},"encoding":{"text":{"field":"t"}}}]}
]}
